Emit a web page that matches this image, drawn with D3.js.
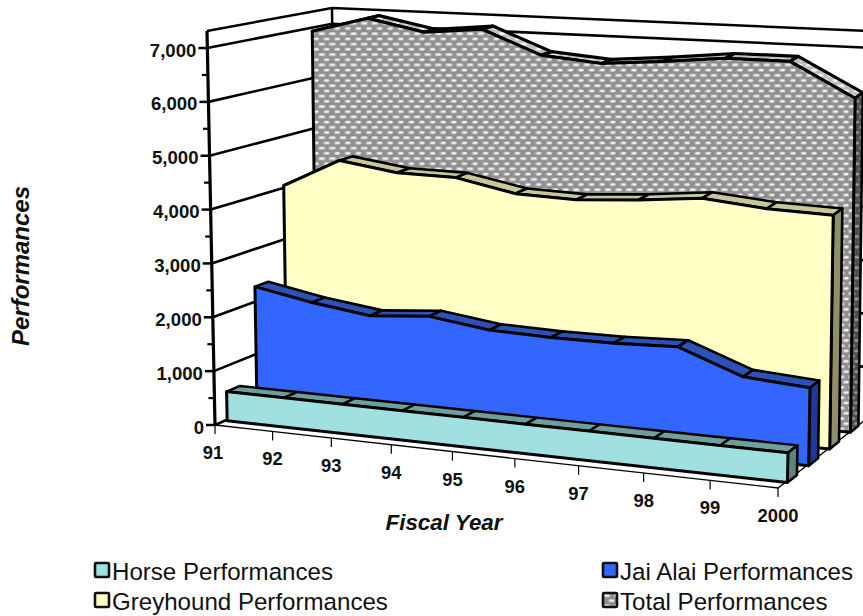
<!DOCTYPE html>
<html><head><meta charset="utf-8">
<script src="https://cdn.jsdelivr.net/npm/d3@7"></script>
<style>html,body{margin:0;padding:0;background:#fff}svg{display:block;font-family:"Liberation Sans",Arial,sans-serif}</style>
</head><body><div id="chart"></div>
<script>
const years = ["91","92","93","94","95","96","97","98","99","2000"];
const horse = [546,546,546,546,546,546,546,546,546,546];
const jaiAlai = [2305,2109,1966,2065,1918,1894,1904,1954,1518,1440];
const greyhound = [4060,4634,4485,4481,4267,4244,4336,4464,4367,4345];
const total = [6938,7255,7040,7159,6718,6628,6733,6862,6870,6249];
const seriesNames = ["Horse Performances","Jai Alai Performances","Greyhound Performances","Total Performances"];
const valueTicks = [0,1000,2000,3000,4000,5000,6000,7000];
const minorTicks = [500,1500,2500,3500,4500,5500,6500];

const W = 863, H = 616;
const svg = d3.select("#chart").append("svg").attr("width",W).attr("height",H).attr("viewBox",[0,0,W,H]);

// projection of the 3-D box: corners [x,y] keyed by (across, up, depth)
const C = {
  "000":[215,425], "100":[778,488], "010":[207,31], "110":[785,88],
  "001":[336,372], "101":[865,420], "011":[332,8],  "111":[870,31]
};
const xs = d3.scalePoint().domain(years).range([0,1]);
const vs = d3.scaleLinear().domain([0,7316]).range([0,1]);
const ds = d3.scalePoint().domain(seriesNames).range([0.08,0.82]);
const warp = t => t/(t+1.097*(1-t));
function P(u,v,d){
  const mix = k => {
    const a = d3.interpolateNumber(C["000"][k],C["100"][k])(u), b = d3.interpolateNumber(C["010"][k],C["110"][k])(u);
    const c = d3.interpolateNumber(C["001"][k],C["101"][k])(u), e = d3.interpolateNumber(C["011"][k],C["111"][k])(u);
    const f = a+(b-a)*v, g = c+(e-c)*v;
    return f+(g-f)*d;
  };
  return [mix(0),mix(1)];
}
// marks sit slightly right of the wall lattice
const S = (u,v,d) => { const p = P(u,v,d); return [p[0]+2.5-2*u*d*d, p[1]]; };
const U = y => warp(xs(y));
const line = d3.line();
const closed = pts => line(pts)+"Z";

// patterns
const defs = svg.append("defs");
function dots(id,bg,fg){
  const p = defs.append("pattern").attr("id",id).attr("patternUnits","userSpaceOnUse").attr("width",10.6).attr("height",10.4);
  p.append("rect").attr("width",10.6).attr("height",10.4).attr("fill",bg);
  [[0.8,1.5],[6.1,6.7]].forEach(([x,y])=>{
    p.append("rect").attr("x",x-1).attr("y",y-0.6).attr("width",8).attr("height",3.4).attr("rx",1.5).attr("fill",fg).attr("opacity",.35);
    p.append("rect").attr("x",x+.4).attr("y",y).attr("width",5.2).attr("height",2.1).attr("rx",1).attr("fill",fg);
  });
  p.append("rect").attr("x",-4.5).attr("y",6.7).attr("width",5.2).attr("height",2.1).attr("fill",fg).attr("rx",1);
}
dots("totalFace","#8f8f8f","#f2f2f2");
dots("totalSide","#4d4d4d","#9a9a9a");
dots("totalTop","#bdbdbd","#ffffff");

const styles = {
  "Horse Performances":{face:"#a0e0e0",top:"#6f9f9c",side:"#5d8580",thick:0.11,sw:2.4},
  "Jai Alai Performances":{face:"#3366ff",top:"#2a52b8",side:"#1f3a94",thick:0.11,sw:2.6},
  "Greyhound Performances":{face:"#ffffc6",top:"#c8c896",side:"#8f8f68",thick:0.11,sw:2.6},
  "Total Performances":{face:"url(#totalFace)",top:"url(#totalTop)",side:"url(#totalSide)",thick:0.095,sw:3.2}
};
const values = {"Horse Performances":horse,"Jai Alai Performances":jaiAlai,"Greyhound Performances":greyhound,"Total Performances":total};

// walls
const walls = svg.append("g").attr("fill","none").attr("stroke","#000");
walls.append("path").attr("stroke-width",2.5).attr("d",line([P(0,1,0),P(0,1,1),P(1,1,1)]));
walls.append("path").attr("stroke-width",2.5).attr("d",line([P(0,0,1),P(0,1,1)]));
walls.selectAll(".grid").data(valueTicks.filter(v=>v>0)).join("path").attr("class","grid").attr("stroke-width",2.6)
  .attr("d",v=>line([P(0,vs(v),0),P(0,vs(v),1),P(1,vs(v),1)]));
walls.append("path").attr("stroke-width",2.6).attr("d",line([P(0,0,0),P(0,0,1)]));
walls.append("path").attr("stroke-width",1.3).attr("d",line([P(0,0,0),P(1,0,0),P(1,0,1)]));
walls.append("path").attr("stroke-width",3.2).attr("d",line([P(0,0,0),P(0,1,0)]));

// y axis ticks and labels
const yAxis = svg.append("g");
yAxis.selectAll(".maj").data(valueTicks).join("path").attr("class","maj").attr("stroke","#000").attr("stroke-width",2.5)
  .attr("d",v=>{const p=P(0,vs(v),0);return line([[p[0]-9,p[1]],p]);});
yAxis.selectAll(".min").data(minorTicks).join("path").attr("class","min").attr("stroke","#000").attr("stroke-width",2.2)
  .attr("d",v=>{const p=P(0,vs(v),0);return line([[p[0]-6,p[1]],p]);});
yAxis.selectAll("text").data(valueTicks).join("text")
  .attr("x",v=>P(0,vs(v),0)[0]-11).attr("y",v=>P(0,vs(v),0)[1]+8.5)
  .attr("text-anchor","end").attr("font-size",18.6).attr("font-weight","bold").attr("fill","#111")
  .text(d3.format(","));

// x axis ticks and labels
const xAxis = svg.append("g");
xAxis.selectAll("path").data(years).join("path").attr("stroke","#000").attr("stroke-width",1.2)
  .attr("d",y=>{const p=P(U(y),0,0);return line([p,[p[0],p[1]+9]]);});
xAxis.selectAll("text").data(years).join("text")
  .attr("x",y=>P(U(y),0,0)[0]-(y==="91"?2:0)).attr("y",y=>P(U(y),0,0)[1]+34)
  .attr("text-anchor","middle").attr("font-size",18.4).attr("font-weight","bold").attr("fill","#111").text(y=>y);

// series: back to front
seriesNames.slice().reverse().forEach(name=>{
  const vals = values[name], st = styles[name], d0 = ds(name), d1 = d0+st.thick;
  const g = svg.append("g").attr("stroke","#000").attr("stroke-linejoin","round");
  const pts = years.map((y,i)=>({u:U(y),v:vs(vals[i])}));
  g.selectAll(".top").data(d3.pairs(pts)).join("path").attr("class","top")
    .attr("fill",st.top).attr("stroke-width",st.sw)
    .attr("d",([a,b])=>closed([S(a.u,a.v,d0),S(b.u,b.v,d0),S(b.u,b.v,d1),S(a.u,a.v,d1)]));
  const last = pts[pts.length-1];
  g.append("path").attr("fill",st.side).attr("stroke-width",2.6)
    .attr("d",closed([S(1,0,d0),S(1,last.v,d0),S(1,last.v,d1),S(1,0,d1)]));
  g.append("path").attr("fill",st.face).attr("stroke-width",3)
    .attr("d",closed([S(0,0,d0),...pts.map(p=>S(p.u,p.v,d0)),S(1,0,d0)]));
});

// titles
svg.append("text").attr("x",444).attr("y",530).attr("text-anchor","middle").attr("font-size",22.4)
  .attr("font-weight","bold").attr("font-style","italic").attr("fill","#111").text("Fiscal Year");
svg.append("text").attr("transform","translate(29,266) rotate(-90)").attr("text-anchor","middle").attr("font-size",24)
  .attr("font-weight","bold").attr("font-style","italic").attr("fill","#111").text("Performances");

// legend
const legendPos = {"Horse Performances":[95,563],"Greyhound Performances":[95,593],"Jai Alai Performances":[603,563],"Total Performances":[603,593]};
const lg = svg.append("g").selectAll("g").data(seriesNames).join("g")
  .attr("transform",n=>`translate(${legendPos[n]})`);
lg.append("rect").attr("width",14).attr("height",14).attr("rx",1).attr("fill",n=>styles[n].face).attr("stroke","#111").attr("stroke-width",2.6);
lg.append("text").attr("x",17).attr("y",17).attr("font-size",24.1).attr("fill","#111").text(n=>n);
</script></body></html>
